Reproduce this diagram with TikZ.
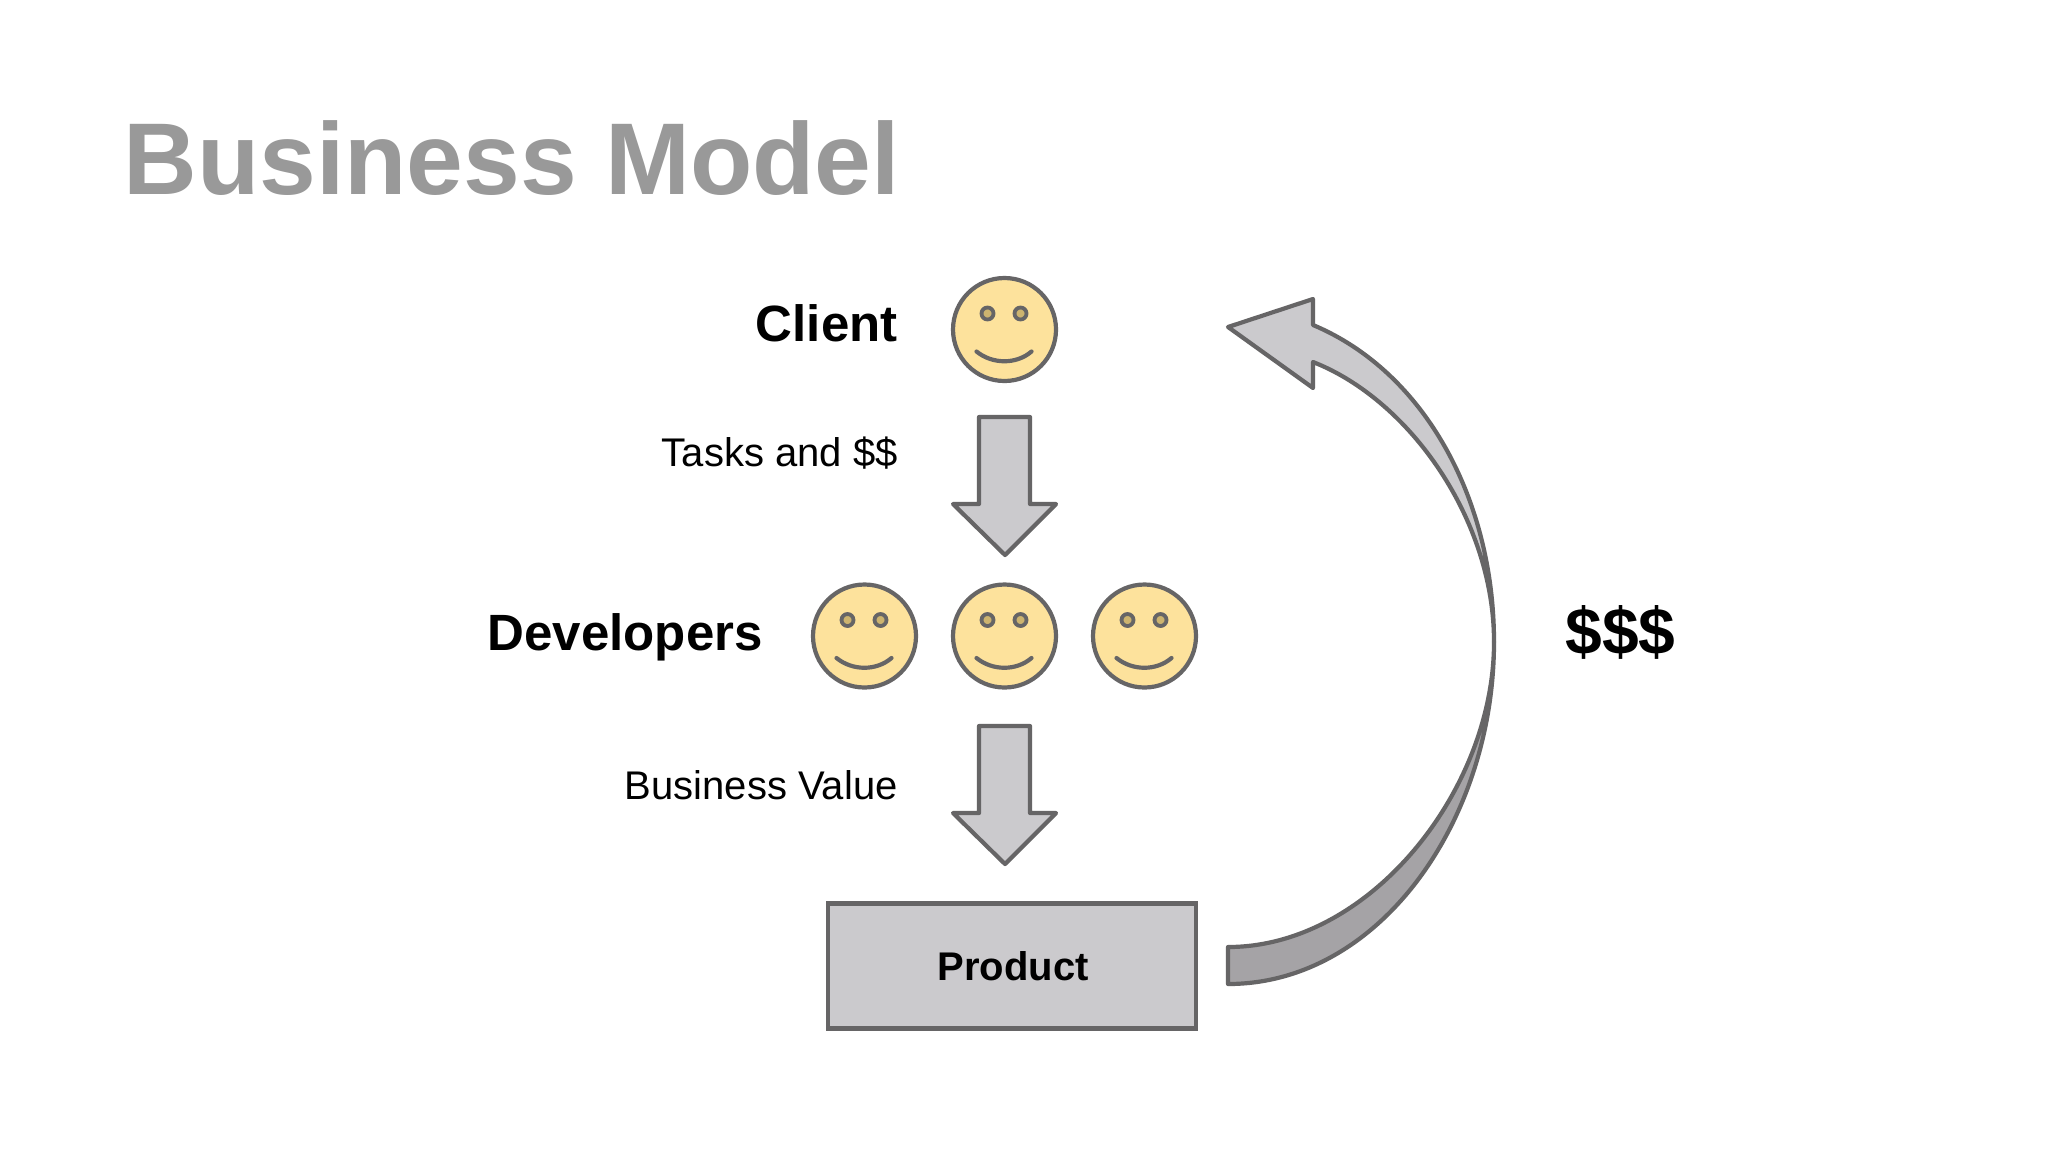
\documentclass[tikz,border=0pt]{standalone}
\usepackage{fontspec}
\setmainfont{Liberation Sans}
\definecolor{edge}{HTML}{666566}
\definecolor{face}{HTML}{FDE29C}
\definecolor{eye}{HTML}{CDB46F}
\definecolor{lightgrey}{HTML}{CBCACD}
\definecolor{darkgrey}{HTML}{A5A3A6}
\definecolor{titlegrey}{HTML}{999999}
\tikzset{
  x=0.5pt,y=-0.5pt,
  outline/.style={draw=edge,line width=2.1pt,line join=round},
  facenode/.style={circle,draw=edge,line width=2.1pt,fill=face,minimum size=51.5pt,inner sep=0pt},
  role/.style={anchor=base east,font=\bfseries\fontsize{25.5}{30}\selectfont,text=black,inner sep=0pt},
  note/.style={anchor=base east,font=\fontsize{20}{24}\selectfont,text=black,inner sep=0pt},
  smiley/.pic={
    \node[facenode] (-c) at (0,0) {};
    \filldraw[draw=edge,fill=eye,line width=1.9pt] (-17,-16) circle (6);
    \filldraw[draw=edge,fill=eye,line width=1.9pt] (16,-16) circle (6);
    \draw[edge,line width=2.1pt,line cap=round] (-28,22) .. controls (-12,35) and (12,35) .. (27,22);
  },
  blockdown/.pic={
    \draw[outline,fill=lightgrey] (-26,0) -- (25,0) -- (25,87) -- (51,87) -- (0,138) -- (-52,87) -- (-26,87) -- cycle;
  }
}
\begin{document}
\begin{tikzpicture}
\useasboundingbox[fill=white] (0,0) rectangle (2048,1152);
\node[anchor=base west,inner sep=0pt,text=titlegrey,font=\bfseries\fontsize{51}{60}\selectfont] (title) at (123,194) {Business Model};
\pic (client) at (1004.5,329.5) {smiley};
\pic (dev1) at (864.5,636) {smiley};
\pic (dev2) at (1004.5,636) {smiley};
\pic (dev3) at (1144.5,636) {smiley};
\node[role] (clientlabel) at (898,341) {Client};
\node[role] (devlabel) at (763,650) {Developers};
\node[note] (tasks) at (898,466) {Tasks and \$\$};
\node[note] (value) at (898,799) {Business Value};
\coordinate (arrowa) at (1005,417);
\coordinate (arrowb) at (1005,726);
\coordinate (waist) at (1494,642);
\pic at (arrowa) {blockdown};
\pic at (arrowb) {blockdown};
\node[draw=edge,line width=2.1pt,fill=lightgrey,minimum width=184pt,minimum height=62.5pt,inner sep=0pt] (product) at (1012,966) {};
\node[anchor=base,inner sep=0pt,font=\bfseries\fontsize{20}{24}\selectfont] (productlabel) at (1013,980) {Product};
\draw[outline,fill=lightgrey] (waist) .. controls (1494,500) and (1425,372) .. (1313,325)
  -- (1313,299) -- (1228,327) -- (1313,388) -- (1313,362)
  .. controls (1410,400) and (1494,520) .. (waist) -- cycle;
\draw[outline,fill=darkgrey] (1228,947) .. controls (1370,947) and (1494,790) .. (waist)
  .. controls (1494,820) and (1380,984) .. (1228,984) -- cycle;
\node[anchor=base west,inner sep=0pt,font=\bfseries\fontsize{33}{40}\selectfont] (money) at (1565,654) {\$\$\$};
\end{tikzpicture}
\end{document}
